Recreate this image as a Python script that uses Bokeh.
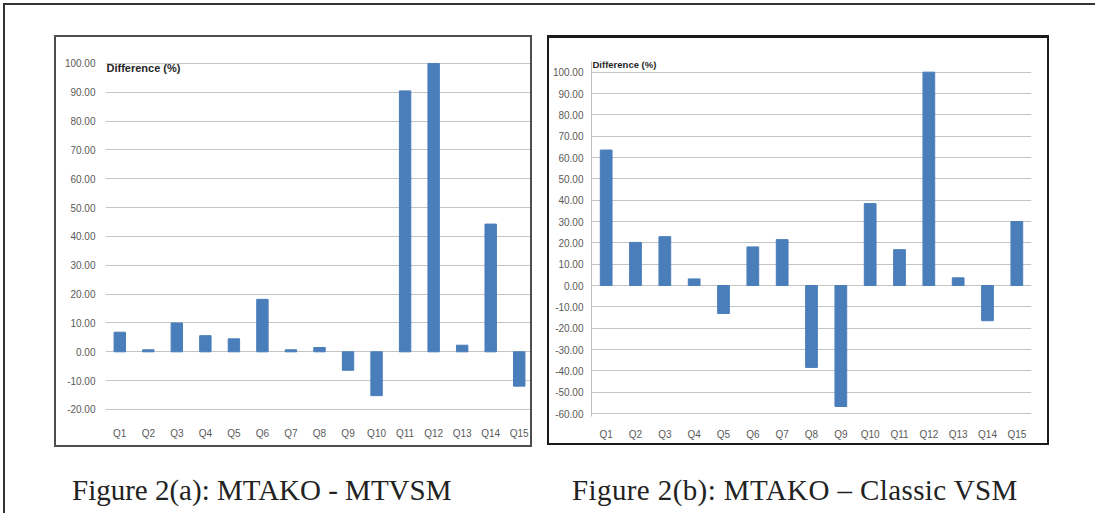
from bokeh.plotting import figure
from bokeh.models import (Range1d, FactorRange, FixedTicker, NumeralTickFormatter,
                          Label, Div, Spacer)
from bokeh.layouts import column, row
from bokeh.embed import file_html
from bokeh.resources import INLINE

# ---------------- data ----------------
categories = ["Q1", "Q2", "Q3", "Q4", "Q5", "Q6", "Q7", "Q8", "Q9", "Q10",
              "Q11", "Q12", "Q13", "Q14", "Q15"]
diff_mtvsm = [6.8, 0.7, 10.0, 5.6, 4.5, 18.2, 0.7, 1.5, -6.4, -15.2,
              90.5, 100.0, 2.3, 44.3, -11.9]
diff_classic = [63.5, 20.2, 22.9, 3.1, -13.1, 18.1, 21.5, -38.4, -56.7, 38.4,
                16.8, 100.0, 3.6, -16.5, 30.0]
ticks_a = [-20, -10, 0, 10, 20, 30, 40, 50, 60, 70, 80, 90, 100]
ticks_b = [-60, -50, -40, -30, -20, -10, 0, 10, 20, 30, 40, 50, 60, 70, 80, 90, 100]
y_label = "Difference (%)"
caption_a = "Figure 2(a): MTAKO - MTVSM"
caption_b = "Figure 2(b): MTAKO \u2013 Classic VSM"

BAR = "#4A7EBB"
GRID = "#c4c4c4"
TICK_FONT = "Liberation Sans"
FRAME = "#333333"


def panel(values, yticks, ylo, yhi, width, height, ml, mr, mt, mb,
          y_standoff, x_standoff, lab_size, lab_baseline, lab_yoff, styles,
          yaxis_line):
    p = figure(x_range=FactorRange(*categories),
               y_range=Range1d(ylo, yhi),
               width=width, height=height,
               output_backend="svg", toolbar_location=None, title_location=None,
               min_border_left=ml, min_border_right=mr,
               min_border_top=mt, min_border_bottom=mb,
               background_fill_color="white", border_fill_color="white",
               outline_line_color=None, styles=styles)
    p.vbar(x=categories, top=values, width=0.4, color=BAR)

    p.yaxis.ticker = FixedTicker(ticks=yticks)
    p.yaxis.formatter = NumeralTickFormatter(format="0.00")
    p.yaxis.major_tick_line_color = None
    p.yaxis.minor_tick_line_color = None
    p.yaxis.axis_line_color = "#bdbdbd" if yaxis_line else None
    p.yaxis.major_label_standoff = y_standoff
    p.yaxis.major_label_text_font = TICK_FONT
    p.yaxis.major_label_text_font_size = "10px"
    p.yaxis.major_label_text_color = "#5a5a5a"

    p.xaxis.axis_line_color = None
    p.xaxis.major_tick_line_color = None
    p.xaxis.minor_tick_line_color = None
    p.xaxis.major_label_standoff = x_standoff
    p.xaxis.major_label_text_font = TICK_FONT
    p.xaxis.major_label_text_font_size = "10px"
    p.xaxis.major_label_text_color = "#5a5a5a"

    p.xgrid.visible = False
    p.ygrid.grid_line_color = GRID
    p.ygrid.grid_line_width = 1

    p.add_layout(Label(x=0, y=yticks[-1], text=y_label, x_offset=1,
                       y_offset=lab_yoff, text_baseline=lab_baseline,
                       text_font=TICK_FONT, text_font_style="bold",
                       text_font_size=lab_size, text_color="#262626"))
    return p


# both frames span the same screen rows (the row aligns them); the y ranges
# are padded so that the grid lines land where the reference draws them
fig_a = panel(diff_mtvsm, ticks_a, -22.78, 101.04, 478, 412, 49, 1, 23, 32,
              4, 4, "11px", "middle", -4.5, {"border": "2px solid #4d4d4d"}, False)
fig_b = panel(diff_classic, ticks_b, -61.4, 105.0, 502, 410, 42, 20, 22, 30,
              2, 6, "9.5px", "bottom", 2,
              {"border": "2px solid #1a1a1a", "border-top": "3px solid #1a1a1a"},
              True)

cap_style = {"font-family": "Liberation Serif", "font-size": "29px",
             "color": "#222222", "line-height": "33px", "white-space": "nowrap"}
cap_a = Div(text=caption_a, width=450, height=33, margin=0, styles=cap_style)
cap_b = Div(text=caption_b, width=490, height=33, margin=0,
            styles=dict(cap_style, **{"letter-spacing": "0.4px"}))

content = column(
    Spacer(width=10, height=30),
    row(Spacer(width=49, height=10), fig_a, Spacer(width=15, height=10), fig_b),
    Spacer(width=10, height=27),
    row(Spacer(width=67, height=10), cap_a, Spacer(width=50, height=10), cap_b),
)

framed = column(
    Spacer(width=1092, height=2, styles={"background-color": FRAME}),
    row(Spacer(width=2, height=508, styles={"background-color": FRAME}), content),
)

root = column(
    Spacer(width=10, height=3),
    row(Spacer(width=3, height=10), framed),
)

open("out.html", "w").write(file_html(root, INLINE))
